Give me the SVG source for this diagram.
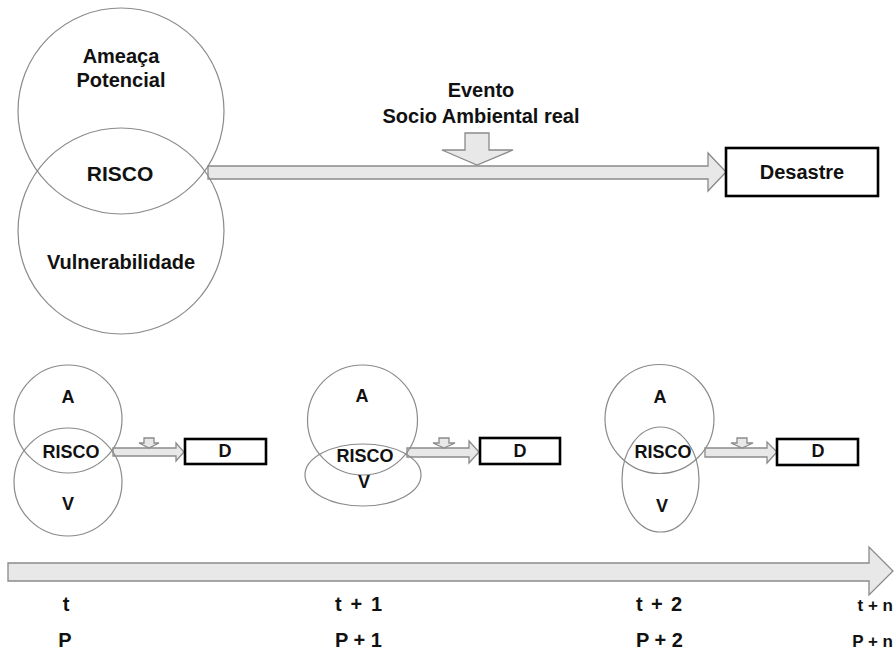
<svg xmlns="http://www.w3.org/2000/svg" width="895" height="650" viewBox="0 0 895 650">
<style>
.bg{fill:#ffffff}
.ring{fill:none;stroke:#8a8a8a;stroke-width:1.2}
.arr{fill:#e8e8e8;stroke:#8a8a8a;stroke-width:1.3;stroke-linejoin:miter}
.box{fill:#ffffff;stroke:#000000;stroke-width:2.6}
text{font-family:"Liberation Sans",Arial,sans-serif;font-weight:bold;fill:#111111}
.c{text-anchor:middle}
.e{text-anchor:end}
.t20{font-size:20px}
.t18{font-size:18px}
.t17{font-size:17px}
</style>
<rect class="bg" x="0" y="0" width="895" height="650"/>

<g id="connectors">
  <polygon class="arr" points="208,166 708,166 708,153 726,172 708,191 708,179 208,179"/>
  <polygon class="arr" points="465,133 489,133 489,150 513,150 477,165 442,150 465,150"/>
  <polygon class="arr" points="113,448 176,448 176,443 184,452 176,461 176,456 113,456"/>
  <polygon class="arr" points="144,438 154,438 154,443 159,443 149,448 139,443 144,443"/>
  <polygon class="arr" points="407,448 469,448 469,441 479,452 469,463 469,457 407,457"/>
  <polygon class="arr" points="439,438 449,438 449,443 455,443 444,448 433,443 439,443"/>
  <polygon class="arr" points="705,448 767,448 767,442 777,452 767,463 767,457 705,457"/>
  <polygon class="arr" points="737,438 747,438 747,443 753,443 742,448 731,443 737,443"/>
  <polygon class="arr" points="8,563 869,563 869,547 893,571 869,595 869,581 8,581"/>
</g>

<g id="top-ameaca">
  <circle class="ring" cx="121" cy="111" r="103"/>
  <text class="c t20" x="121" y="63">Ameaça</text>
  <text class="c t20" x="121" y="87">Potencial</text>
</g>
<g id="top-vulnerabilidade">
  <circle class="ring" cx="121" cy="231" r="103"/>
  <text class="c t20" x="121" y="269">Vulnerabilidade</text>
</g>
<g id="top-risco">
  <text class="c" style="font-size:21px" x="120" y="181">RISCO</text>
</g>
<g id="evento">
  <text class="c t20" x="481" y="97">Evento</text>
  <text class="c t20" x="481" y="123">Socio Ambiental real</text>
</g>
<g id="desastre">
  <rect class="box" x="726" y="148" width="152" height="48"/>
  <text class="c t20" x="802" y="179">Desastre</text>
</g>

<g id="g1">
  <circle class="ring" cx="68" cy="419" r="54"/>
  <circle class="ring" cx="68" cy="482" r="54"/>
  <text class="c t18" x="68" y="403">A</text>
  <text class="c t18" x="71" y="458">RISCO</text>
  <text class="c t18" x="68" y="510">V</text>
</g>
<g id="g1-d">
  <rect class="box" x="185" y="439" width="81" height="25"/>
  <text class="c t18" x="225" y="457">D</text>
</g>

<g id="g2">
  <circle class="ring" cx="362.5" cy="420" r="55"/>
  <ellipse class="ring" cx="363" cy="475" rx="58" ry="31"/>
  <text class="c t18" x="362" y="402">A</text>
  <text class="c t18" x="365" y="462">RISCO</text>
  <text class="c t18" x="364" y="488">V</text>
</g>
<g id="g2-d">
  <rect class="box" x="480" y="438" width="80" height="26"/>
  <text class="c t18" x="520" y="457">D</text>
</g>

<g id="g3">
  <circle class="ring" cx="659.5" cy="419" r="54.5"/>
  <ellipse class="ring" cx="660.5" cy="479.5" rx="38.5" ry="52.5"/>
  <text class="c t18" x="660" y="403">A</text>
  <text class="c t18" x="663" y="458">RISCO</text>
  <text class="c t18" x="662" y="512">V</text>
</g>
<g id="g3-d">
  <rect class="box" x="777" y="439" width="81" height="26"/>
  <text class="c t18" x="818" y="457">D</text>
</g>

<g id="timeline-labels">
  <text class="c t20" x="66" y="611">t</text>
  <text class="c t20" x="65" y="647">P</text>
  <text class="t20" x="335" y="611" textLength="47" lengthAdjust="spacing">t + 1</text>
  <text class="t20" x="335" y="647">P + 1</text>
  <text class="t20" x="636" y="611" textLength="46" lengthAdjust="spacing">t + 2</text>
  <text class="t20" x="636" y="647">P + 2</text>
  <text class="e t17" x="893" y="611">t + n</text>
  <text class="e t17" x="893" y="647">P + n</text>
</g>
</svg>
